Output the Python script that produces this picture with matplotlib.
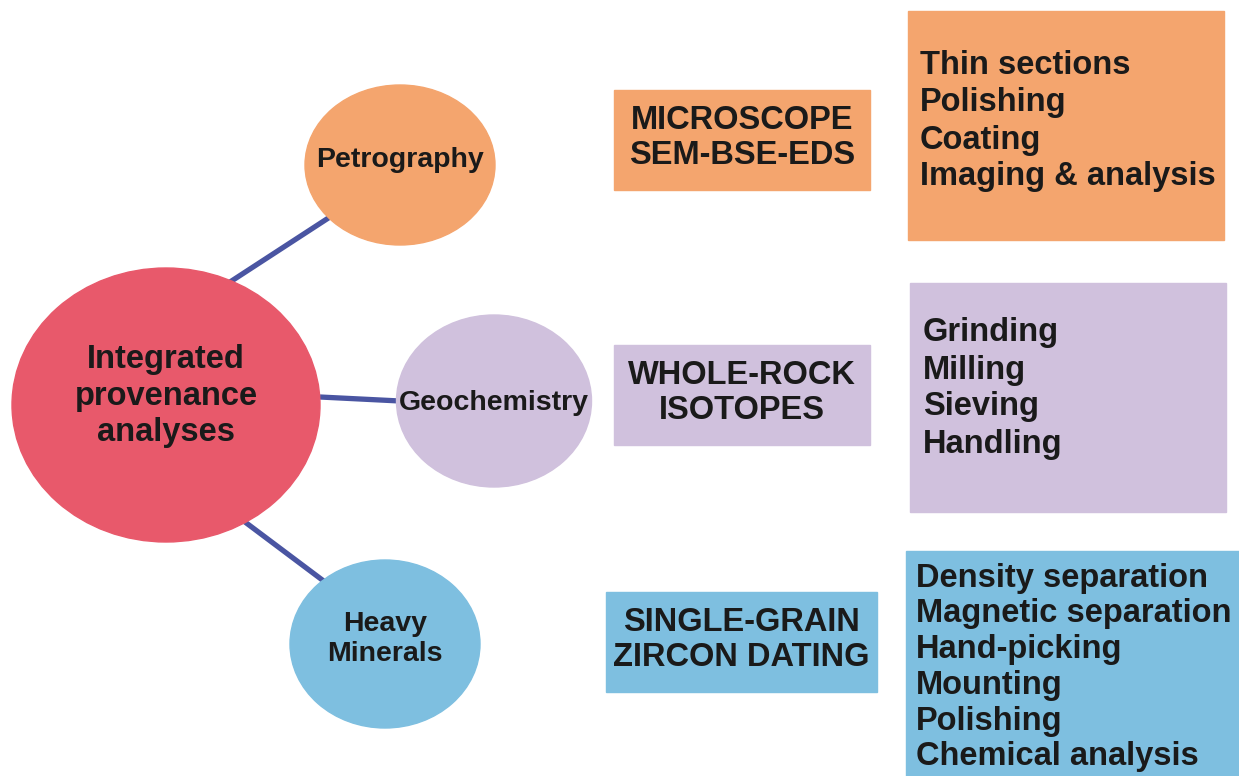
import matplotlib.pyplot as plt
from matplotlib.patches import Ellipse, Rectangle

plt.rcParams['font.family'] = ['Liberation Sans', 'DejaVu Sans']

# centre node
hub_label = "Integrated\nprovenance\nanalyses"
hub_color = "#E8596B"

# branches: name, colour, method box text, preparation steps
branch_names = ["Petrography", "Geochemistry", "Heavy\nMinerals"]
branch_colors = ["#F4A56E", "#D0C1DD", "#7EBFE0"]
method_labels = ["MICROSCOPE\nSEM-BSE-EDS", "WHOLE-ROCK\nISOTOPES", "SINGLE-GRAIN\nZIRCON DATING"]
step_lists = [
    ["Thin sections", "Polishing", "Coating", "Imaging & analysis"],
    ["Grinding", "Milling", "Sieving", "Handling"],
    ["Density separation", "Magnetic separation", "Hand-picking",
     "Mounting", "Polishing", "Chemical analysis"],
]

# layout in pixel units (y down)
hub_xy = (166, 405); hub_wh = (308, 274)
branch_xy = [(400, 165), (494, 401), (385, 644)]
branch_wh = [(190, 160), (195, 172), (190, 168)]
branch_text_y = [160, 403, 639]
branch_fs = [20.5, 20.5, 20.5]
link_lines = [((230, 282), (333, 215)), ((320, 397), (400, 401)), ((245, 522), (325, 582))]
method_boxes = [(614, 90, 256, 100), (614, 345, 256, 100), (606, 592, 271, 100)]
step_boxes = [(908, 11, 316, 229), (910, 283, 316, 229), (906, 551, 333, 225)]
step_text_pos = [(920, 66), (923, 333), (916, 578)]
step_spacing = [37, 37, 35.8]

fig = plt.figure(figsize=(12.39, 7.76), dpi=100)
ax = fig.add_axes([0, 0, 1, 1])
ax.set_xlim(0, 1239)
ax.set_ylim(776, 0)
ax.axis('off')

for (p0, p1) in link_lines:
    ax.plot([p0[0], p1[0]], [p0[1], p1[1]], color="#4A55A2", lw=3.8, solid_capstyle='butt', zorder=1)

ax.add_patch(Ellipse(hub_xy, hub_wh[0], hub_wh[1], color=hub_color, zorder=2))
ax.text(hub_xy[0], 396, hub_label, ha='center', va='center', fontsize=23.5,
        fontweight='bold', color='#1a1a1a', linespacing=1.22, zorder=3)

for i in range(3):
    ax.add_patch(Ellipse(branch_xy[i], branch_wh[i][0], branch_wh[i][1], color=branch_colors[i], zorder=2))
    ax.text(branch_xy[i][0], branch_text_y[i], branch_names[i], ha='center', va='center',
            fontsize=branch_fs[i], fontweight='bold', color='#1a1a1a', linespacing=1.2, zorder=3)
    x, y, w, h = method_boxes[i]
    ax.add_patch(Rectangle((x, y), w, h, color=branch_colors[i], zorder=2))
    ax.text(x + w / 2, y + h / 2 - 2, method_labels[i], ha='center', va='center', fontsize=23.5,
            fontweight='bold', color='#1a1a1a', linespacing=1.2, zorder=3)
    x, y, w, h = step_boxes[i]
    ax.add_patch(Rectangle((x, y), w, h, color=branch_colors[i], zorder=2))
    tx, ty = step_text_pos[i]
    for j, s in enumerate(step_lists[i]):
        ax.text(tx, ty + j * step_spacing[i], s, ha='left', va='center', fontsize=23.5,
                fontweight='bold', color='#1a1a1a', zorder=3)

fig.savefig('out.png', dpi=100)
